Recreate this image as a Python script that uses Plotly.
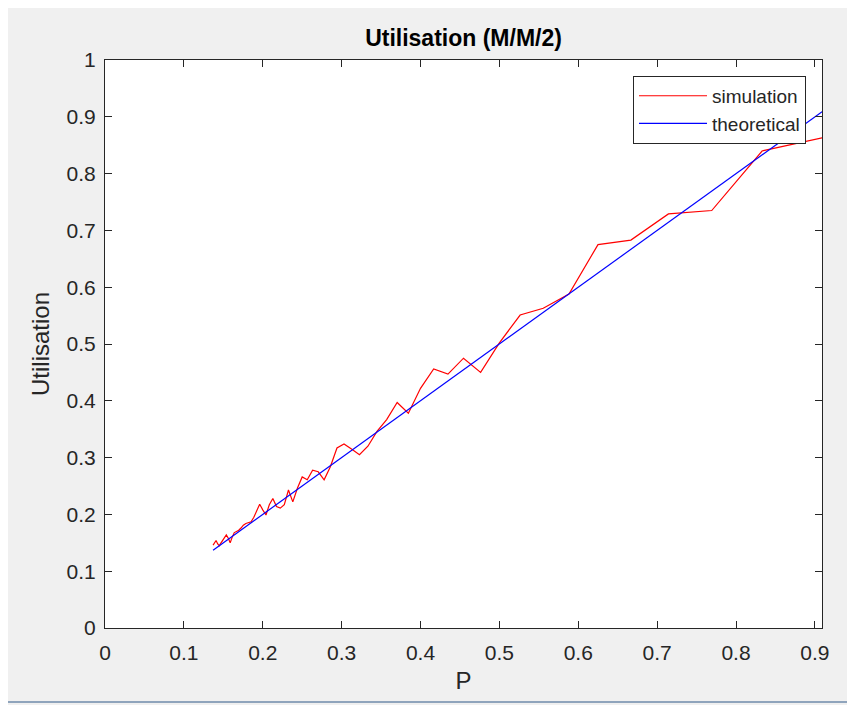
import plotly.graph_objects as go

# P values (load) of each simulated point
p_values = [0.1370, 0.1389, 0.1408, 0.1429, 0.1449, 0.1471, 0.1493, 0.1515, 0.1538, 0.1563,
            0.1587, 0.1613, 0.1639, 0.1667, 0.1695, 0.1724, 0.1754, 0.1786, 0.1818, 0.1852,
            0.1887, 0.1923, 0.1961, 0.2000, 0.2041, 0.2083, 0.2128, 0.2174, 0.2222, 0.2273,
            0.2326, 0.2381, 0.2439, 0.2500, 0.2564, 0.2632, 0.2703, 0.2778, 0.2857, 0.2941,
            0.3030, 0.3125, 0.3226, 0.3333, 0.3448, 0.3571, 0.3704, 0.3846, 0.4000, 0.4167,
            0.4348, 0.4545, 0.4762, 0.5000, 0.5263, 0.5556, 0.5882, 0.6250, 0.6667, 0.7143,
            0.7692, 0.8333, 0.9091]

simulation = [0.146, 0.150, 0.154, 0.148, 0.145, 0.150, 0.155, 0.160, 0.164, 0.158,
              0.150, 0.160, 0.168, 0.170, 0.172, 0.176, 0.181, 0.184, 0.185, 0.187,
              0.195, 0.205, 0.218, 0.208, 0.199, 0.217, 0.228, 0.214, 0.211, 0.217,
              0.243, 0.222, 0.246, 0.266, 0.261, 0.278, 0.275, 0.261, 0.284, 0.317,
              0.324, 0.315, 0.305, 0.320, 0.346, 0.367, 0.397, 0.378, 0.422, 0.456,
              0.447, 0.475, 0.450, 0.502, 0.551, 0.563, 0.588, 0.675, 0.683, 0.729,
              0.735, 0.840, 0.863]

theoretical = [0.1370, 0.1389, 0.1408, 0.1429, 0.1449, 0.1471, 0.1493, 0.1515, 0.1538, 0.1563,
               0.1587, 0.1613, 0.1639, 0.1667, 0.1695, 0.1724, 0.1754, 0.1786, 0.1818, 0.1852,
               0.1887, 0.1923, 0.1961, 0.2000, 0.2041, 0.2083, 0.2128, 0.2174, 0.2222, 0.2273,
               0.2326, 0.2381, 0.2439, 0.2500, 0.2564, 0.2632, 0.2703, 0.2778, 0.2857, 0.2941,
               0.3030, 0.3125, 0.3226, 0.3333, 0.3448, 0.3571, 0.3704, 0.3846, 0.4000, 0.4167,
               0.4348, 0.4545, 0.4762, 0.5000, 0.5263, 0.5556, 0.5882, 0.6250, 0.6667, 0.7143,
               0.7692, 0.8333, 0.9091]

x_ticks = [0, 0.1, 0.2, 0.3, 0.4, 0.5, 0.6, 0.7, 0.8, 0.9]
x_tick_labels = ["0", "0.1", "0.2", "0.3", "0.4", "0.5", "0.6", "0.7", "0.8", "0.9"]
y_ticks = [0, 0.1, 0.2, 0.3, 0.4, 0.5, 0.6, 0.7, 0.8, 0.9, 1]
y_tick_labels = ["0", "0.1", "0.2", "0.3", "0.4", "0.5", "0.6", "0.7", "0.8", "0.9", "1"]

FONT = "Arial, Liberation Sans, Helvetica, sans-serif"
AX = "#262626"

fig = go.Figure()
fig.add_trace(go.Scatter(x=p_values, y=simulation, mode="lines", name="simulation",
                         line=dict(color="#ff0000", width=1.2), legendgroup="a"))
fig.add_trace(go.Scatter(x=p_values, y=theoretical, mode="lines", name="theoretical",
                         line=dict(color="#0000ff", width=1.2), legendgroup="b"))

axis_common = dict(showgrid=False, zeroline=False, showline=True, linecolor=AX, linewidth=1,
                   mirror="ticks", ticks="inside", ticklen=7, tickcolor=AX, tickwidth=1,
                   tickfont=dict(family=FONT, size=21, color=AX))

fig.update_xaxes(range=[0, 0.909], tickvals=x_ticks, ticktext=x_tick_labels,
                 title=dict(text="P", font=dict(family=FONT, size=24, color=AX), standoff=8),
                 ticklabelstandoff=6, **axis_common)
fig.update_yaxes(range=[0, 1], tickvals=y_ticks, ticktext=y_tick_labels,
                 title=dict(text="Utilisation", font=dict(family=FONT, size=24, color=AX), standoff=10),
                 ticklabelstandoff=4, **axis_common)

fig.update_layout(
    width=847, height=697,
    margin=dict(l=97, r=33, t=52, b=77),
    paper_bgcolor="#f0f0f0", plot_bgcolor="#ffffff",
    title=dict(text="<b>Utilisation (M/M/2)</b>", x=0.5378, xanchor="center", y=0.957, yanchor="middle",
               font=dict(family=FONT, size=23, color="#000000")),
    legend=dict(x=0.9777, xanchor="right", y=0.972, yanchor="top",
                bgcolor="#ffffff", bordercolor=AX, borderwidth=1,
                font=dict(family=FONT, size=19, color=AX),
                itemwidth=68, traceorder="grouped", tracegroupgap=0),
    showlegend=True,
    shapes=[
        dict(type="line", xref="paper", yref="paper", x0=-0.2, x1=1.1, y0=-74 / 568, y1=-74 / 568,
             line=dict(color="#8fa4bc", width=2)),
    ],
)

fig.write_html("out.html")
